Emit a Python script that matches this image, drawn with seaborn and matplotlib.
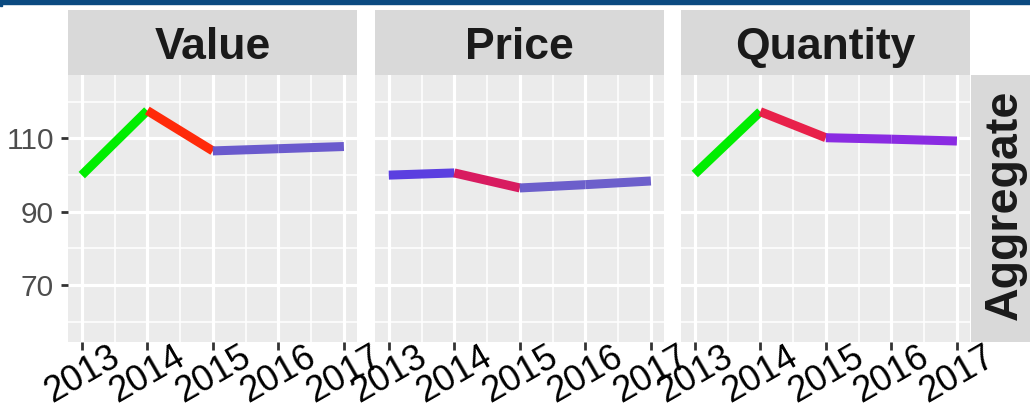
import matplotlib
matplotlib.use("Agg")
import matplotlib.pyplot as plt
import seaborn as sns
import pandas as pd
from matplotlib.patches import Rectangle
from matplotlib.ticker import MultipleLocator
from matplotlib.transforms import ScaledTranslation

# data
years = [2013, 2014, 2015, 2016, 2017]
panels = ["Value", "Price", "Quantity"]
row_label = "Aggregate"
value = [100.0, 117.6, 106.6, 107.2, 107.8]
price = [100.0, 100.6, 96.5, 97.4, 98.4]
quantity = [100.3, 117.3, 110.2, 109.8, 109.3]
value_colors = ["#00EE00", "#FF2A0A", "#6A5ACD", "#6A5ACD"]
price_colors = ["#5B3FE0", "#D81B60", "#6C5FCB", "#6C5FCB"]
quantity_colors = ["#00EE00", "#E8214A", "#8A2BE2", "#8A2BE2"]

series = {"Value": value, "Price": price, "Quantity": quantity}
seg_colors = {"Value": value_colors, "Price": price_colors, "Quantity": quantity_colors}

# one row per segment end so each segment can get its own colour
rows = []
for p in panels:
    vals = series[p]
    for i in range(len(years) - 1):
        for j in (i, i + 1):
            rows.append({"panel": p, "seg": f"s{i}", "year": years[j], "value": vals[j]})
df = pd.DataFrame(rows)

sns.set_theme(style="darkgrid", rc={"axes.facecolor": "#EBEBEB"})
plt.rcParams["font.family"] = ["Liberation Sans", "DejaVu Sans"]

W, H = 1030, 409
fig = plt.figure(figsize=(W / 100, H / 100), dpi=100, facecolor="white")

panel_x = [68, 375, 681]
panel_w = 289
plot_top, plot_bot = 75, 342
strip_top = 10
shift = ScaledTranslation(4.5 / 100, 0, fig.dpi_scale_trans)

for k, p in enumerate(panels):
    ax = fig.add_axes([panel_x[k] / W, 1 - plot_bot / H, panel_w / W, (plot_bot - plot_top) / H])
    sub = df[df["panel"] == p]
    pal = {f"s{i}": c for i, c in enumerate(seg_colors[p])}
    sns.lineplot(data=sub, x="year", y="value", hue="seg", palette=pal, units="seg",
                 estimator=None, sort=False, linewidth=6.5, legend=False, ax=ax,
                 solid_capstyle="butt")
    ax.set_xlim(2012.79, 2017.2)
    ax.set_ylim(54.5, 127.3)
    ax.xaxis.set_major_locator(MultipleLocator(1))
    ax.xaxis.set_minor_locator(MultipleLocator(0.5))
    ax.yaxis.set_major_locator(MultipleLocator(20, offset=10))
    ax.yaxis.set_minor_locator(MultipleLocator(20))
    ax.grid(which="major", color="white", linewidth=2.3)
    ax.grid(which="minor", color="white", linewidth=1.1)
    ax.set_axisbelow(True)
    for s in ax.spines.values():
        s.set_visible(False)
    ax.set_xlabel("")
    ax.set_ylabel("")
    ax.set_xticks(years)
    ax.set_xticklabels([str(y) for y in years], rotation=30, ha="center",
                       fontsize=26, color="black")
    for lab in ax.get_xticklabels():
        lab.set_transform(lab.get_transform() + shift)
    ax.tick_params(axis="x", which="major", length=6, width=2, color="#333333",
                   pad=-8, bottom=True)
    ax.tick_params(which="minor", length=0)
    if k == 0:
        ax.tick_params(axis="y", which="major", length=5, width=2, color="#333333",
                       pad=5, labelsize=21.5, labelcolor="#4D4D4D", left=True)
    else:
        ax.tick_params(axis="y", which="major", length=0, labelleft=False)

    # facet strip on top
    st = fig.add_axes([panel_x[k] / W, 1 - plot_top / H, panel_w / W, (plot_top - strip_top) / H])
    st.set_facecolor("#D9D9D9")
    st.set_xticks([])
    st.set_yticks([])
    st.grid(False)
    for s in st.spines.values():
        s.set_visible(False)
    st.text(0.5, 0.25, p, ha="center", va="baseline", fontsize=32, fontweight="bold",
            color="#1A1A1A", transform=st.transAxes)

# row strip on the right
rs = fig.add_axes([971 / W, 1 - plot_bot / H, 66 / W, (plot_bot - plot_top) / H])
rs.set_facecolor("#D9D9D9")
rs.set_xticks([])
rs.set_yticks([])
rs.grid(False)
for s in rs.spines.values():
    s.set_visible(False)
rs.text(0.70, 0.513, row_label, ha="center", va="baseline", rotation=90,
        rotation_mode="anchor", fontsize=33.5, fontweight="bold", color="#1A1A1A",
        transform=rs.transAxes)

# dark band along the top edge
fig.patches.append(Rectangle((0, 1 - 4 / H), 1, 4 / H, transform=fig.transFigure,
                             color="#0B4A80", zorder=5))
fig.patches.append(Rectangle((0, 1 - 6 / H), 2 / W, 6 / H, transform=fig.transFigure,
                             color="#0B4A80", zorder=5))

fig.savefig("out.png", dpi=100, facecolor="white")
